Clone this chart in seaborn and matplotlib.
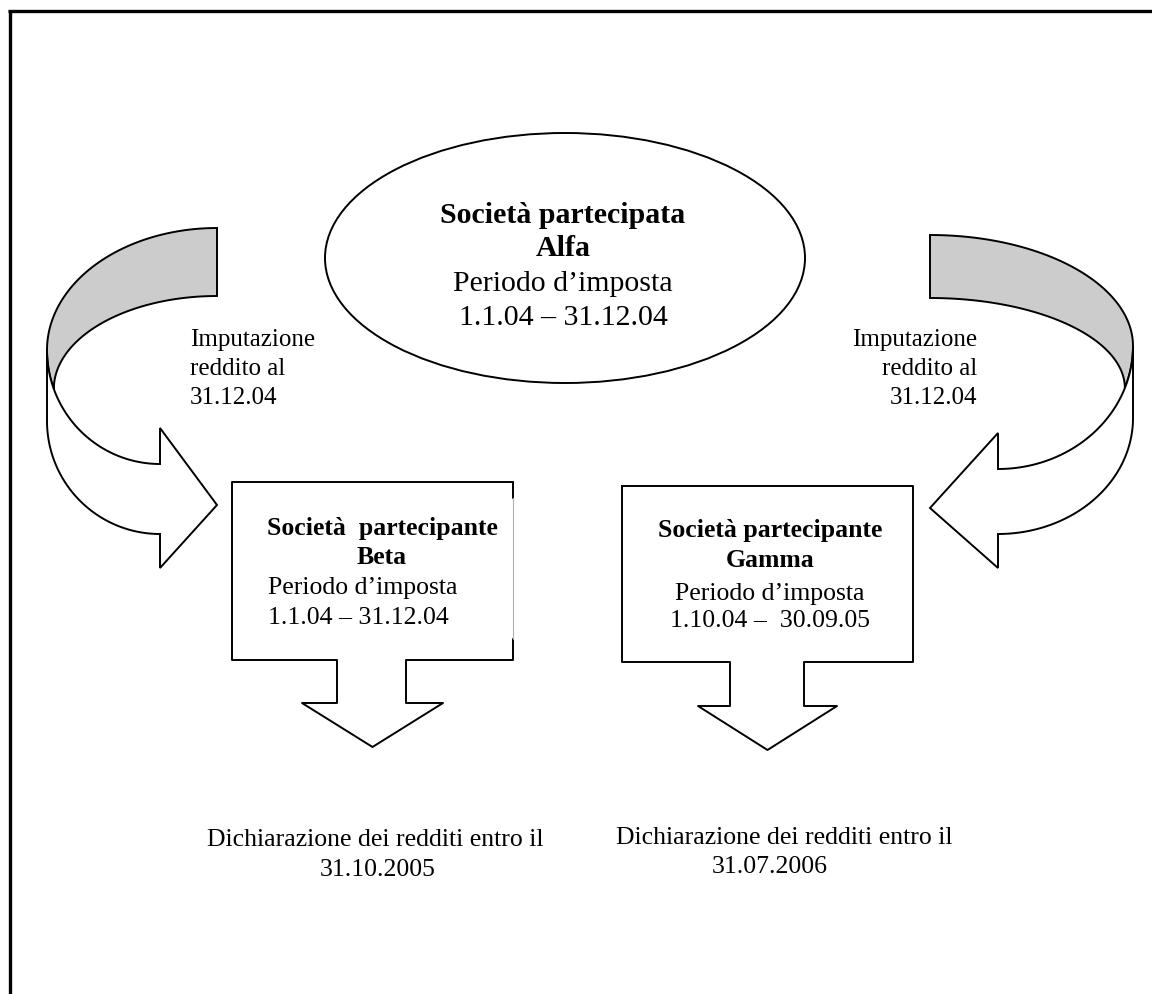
import numpy as np
import matplotlib
matplotlib.use("Agg")
import matplotlib.pyplot as plt
import seaborn as sns
from matplotlib.patches import Ellipse, Polygon

# text content of the diagram
alfa_lines = ["Società partecipata", "Alfa", "Periodo d’imposta", "1.1.04 – 31.12.04"]
alfa_bold = [True, True, False, False]
beta_lines = ["Società  partecipante", "Beta", "Periodo d’imposta", "1.1.04 – 31.12.04"]
gamma_lines = ["Società partecipante", "Gamma", "Periodo d’imposta", "1.10.04 –  30.09.05"]
box_bold = [True, True, False, False]
arrow_label = ["Imputazione", "reddito al", "31.12.04"]
beta_due = ["Dichiarazione dei redditi entro il", "31.10.2005"]
gamma_due = ["Dichiarazione dei redditi entro il", "31.07.2006"]

sns.set_theme(style="white")
plt.rcParams["font.family"] = ["Liberation Serif", "DejaVu Serif"]
plt.rcParams["text.color"] = "black"

W, H = 1152, 994
fig = plt.figure(figsize=(W / 100, H / 100), dpi=100)
ax = fig.add_axes([0, 0, 1, 1])
ax.set_xlim(0, W)
ax.set_ylim(H, 0)
ax.axis("off")

LW = 1.4
GRAY = "#cccccc"


def arc(cx, cy, rx, ry, t0, t1, s, n=60):
    """Elliptic arc; t=0 points outward (direction s), t>0 goes down"""
    t = np.radians(np.linspace(t0, t1, n))
    return np.column_stack([cx + s * rx * np.cos(t), cy + ry * np.sin(t)])


def curved_arrow(s, x_end, y_top, y_in, x_out, y_b, y_f, x_head, y_d, y_g,
                 y_u, y_h, x_tip, y_tip, c_ang=20):
    """3D style curved arrow, s=-1 bends on the left, s=+1 on the right"""
    rx_o = abs(x_end - x_out)
    rx_h = abs(x_head - x_out)
    outer = arc(x_end, y_b, rx_o, y_b - y_top, -90, 0, s)
    front = arc(x_head, y_b, rx_h, y_d - y_b, 0, c_ang, s)
    cx_, cy_ = front[-1]
    inner = arc(x_end, cy_, abs(x_end - cx_), cy_ - y_in, 0, -90, s)
    back = np.vstack([outer, front, inner])
    ax.add_patch(Polygon(back, closed=True, fc=GRAY, ec="black", lw=LW))

    lower = arc(x_head, y_f, rx_h, y_g - y_f, 0, 90, s)
    head = np.array([[x_head, y_h], [x_tip, y_tip], [x_head, y_u]])
    upper = arc(x_head, y_b, rx_h, y_d - y_b, 90, 0, s)
    white = np.vstack([[[x_out, y_b]], lower, head, upper])
    ax.add_patch(Polygon(white, closed=True, fc="white", ec="black", lw=LW))


def callout(x0, x1, y0, y1, sx0, sx1, y_stem, hx0, hx1, tip_y, edge_gap=None):
    """Box with a down arrow below it"""
    mid = (hx0 + hx1) / 2
    pts = np.array([[x0, y0], [x1, y0], [x1, y1], [sx1, y1], [sx1, y_stem],
                    [hx1, y_stem], [mid, tip_y], [hx0, y_stem], [sx0, y_stem],
                    [sx0, y1], [x0, y1]])
    ax.add_patch(Polygon(pts, closed=True, fc="white", ec="none"))
    path = np.vstack([pts, pts[:1]])
    if edge_gap is None:
        ax.plot(path[:, 0], path[:, 1], color="black", lw=LW)
    else:
        # right side drawn faint in the middle, as in the scan
        g0, g1 = edge_gap
        ax.plot([x1, x0, x0, sx0, sx0, hx0, mid, hx1, sx1, sx1, x1, x1],
                [y0, y0, y1, y1, y_stem, y_stem, tip_y, y_stem, y_stem, y1, y1, g1],
                color="black", lw=LW)
        ax.plot([x1, x1], [y0, g0], color="black", lw=LW)
        ax.plot([x1, x1], [g0, g1], color="#b0b0b0", lw=0.8)


# page frame (top and left border)
ax.plot([8, W], [11, 11], color="black", lw=2.4, solid_capstyle="butt")
ax.plot([9.5, 9.5], [10, H], color="black", lw=2.4, solid_capstyle="butt")

# central ellipse
ax.add_patch(Ellipse((565, 258), 480, 250, fc="white", ec="black", lw=LW))
for txt, b, yb in zip(alfa_lines, alfa_bold, [223, 256, 291, 325]):
    ax.text(563, yb, txt, ha="center", va="baseline", fontsize=21.5,
            fontweight="bold" if b else "normal")

# curved arrows
curved_arrow(-1, x_end=217, y_top=228, y_in=296, x_out=47, y_b=350, y_f=421,
             x_head=160, y_d=464, y_g=534, y_u=428, y_h=568, x_tip=217, y_tip=505)
curved_arrow(1, x_end=930, y_top=235, y_in=298, x_out=1133, y_b=346, y_f=418,
             x_head=998, y_d=469, y_g=534, y_u=433, y_h=568, x_tip=930, y_tip=508)

for txt, yb in zip(arrow_label, [346, 375, 404]):
    ax.text(190, yb, txt, ha="left", va="baseline", fontsize=18)
    ax.text(977, yb, txt, ha="right", va="baseline", fontsize=18)

# boxes with down arrows
callout(232, 513, 482, 660, 337, 406, 703, 302, 443, 747, edge_gap=(498, 639))
callout(622, 913, 486, 662, 730, 804, 706, 698, 837, 750)

for txt, b, yb in zip(beta_lines, box_bold, [535, 564, 594, 624]):
    if b:
        ax.text(382, yb, txt, ha="center", va="baseline", fontsize=18.5, fontweight="bold")
    else:
        ax.text(268, yb, txt, ha="left", va="baseline", fontsize=18.5)

for txt, b, yb in zip(gamma_lines, box_bold, [537, 567, 600, 627]):
    ax.text(770, yb, txt, ha="center", va="baseline", fontsize=18.5,
            fontweight="bold" if b else "normal")

# filing deadlines
for txt, x, yb in zip(beta_due, [375, 378], [846, 876]):
    ax.text(x, yb, txt, ha="center", va="baseline", fontsize=18.5)
for txt, x, yb in zip(gamma_due, [784, 770], [844, 873]):
    ax.text(x, yb, txt, ha="center", va="baseline", fontsize=18.5)

fig.savefig("out.png", dpi=100)
